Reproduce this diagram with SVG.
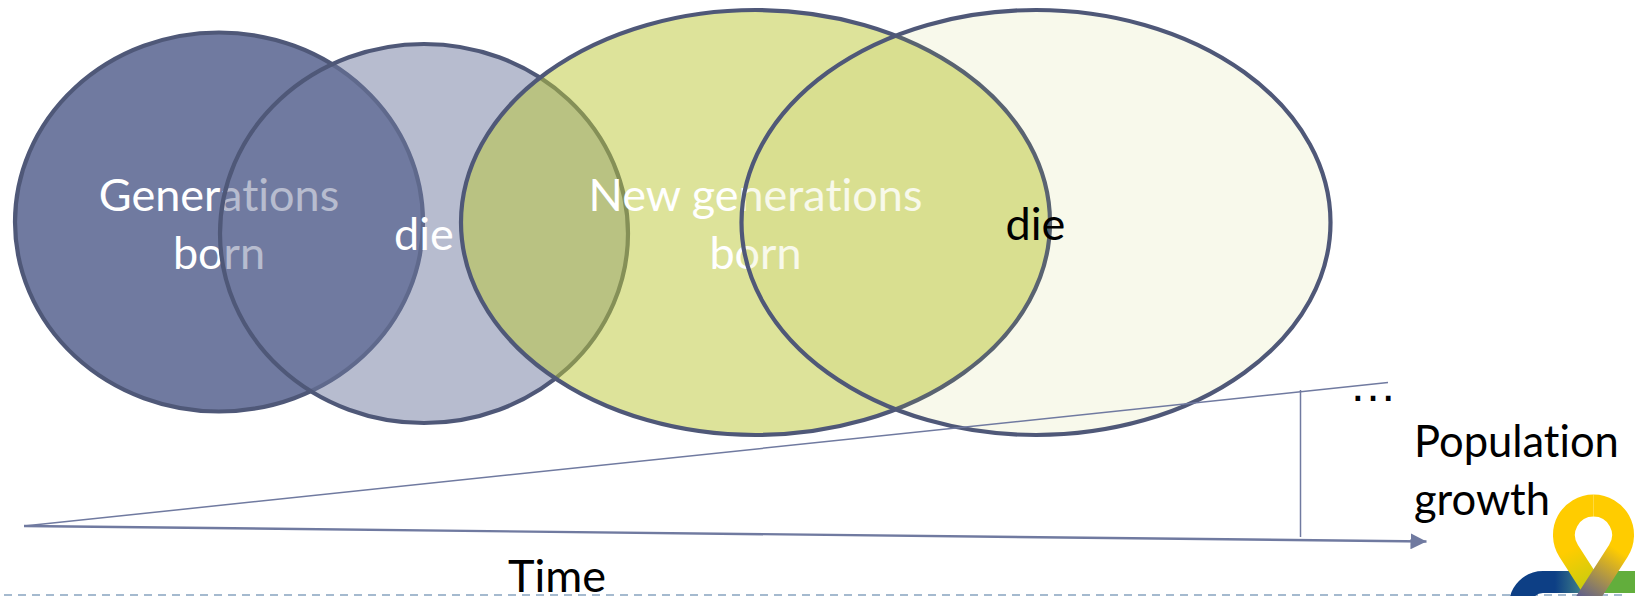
<svg xmlns="http://www.w3.org/2000/svg" width="1635" height="596" viewBox="0 0 1635 596">
<style>
text{font-family:"Lato","Open Sans","Liberation Sans",sans-serif;font-size:45px;text-anchor:middle;font-variant-ligatures:none}
.w{fill:#fff}.k{fill:#000}
.s{font-size:43.500px;text-anchor:start}
ellipse{stroke:#4f5878;stroke-width:4.200}
.ln{stroke:#707aa0;fill:none}
</style>
<defs>
<marker id="ah" markerUnits="userSpaceOnUse" markerWidth="16" markerHeight="16" refX="16" refY="8" orient="auto"><path d="M0 0L16 8L0 16Z" fill="#707aa0"/></marker>
<linearGradient id="leg" gradientUnits="userSpaceOnUse" x1="1622" y1="545" x2="1585" y2="600"><stop offset="0.1" stop-color="#ffcc00"/><stop offset="1" stop-color="#5f5f8c"/></linearGradient>
<linearGradient id="blue" gradientUnits="userSpaceOnUse" x1="1555" y1="0" x2="1582" y2="0"><stop offset="0" stop-color="#0d3f85"/><stop offset="1" stop-color="#3f7f88"/></linearGradient>
<linearGradient id="leftleg" gradientUnits="userSpaceOnUse" x1="1570" y1="550" x2="1590" y2="590"><stop offset="0" stop-color="#ffcc00"/><stop offset="1" stop-color="#c4cc10"/></linearGradient>
</defs>
<line x1="4" y1="595" x2="1622" y2="595" stroke="#a5bacf" stroke-width="2" stroke-dasharray="8 6"/>
<g id="node-generations-born">
<ellipse cx="219" cy="222" rx="204" ry="189.500" fill="#707aa0"/>
<text class="w" x="219" y="211">Generations</text>
<text class="w" x="219" y="269">born</text>
</g>
<g id="node-die-1">
<ellipse cx="424" cy="233.500" rx="204" ry="189.500" fill="#707aa0" fill-opacity=".5"/>
<text class="w" x="424" y="250">die</text>
</g>
<g id="node-new-generations-born">
<ellipse cx="755.500" cy="222.500" rx="294.500" ry="212.500" fill="#bbc735" fill-opacity=".5"/>
<text class="w" x="755.500" y="211">New generations</text>
<text class="w" x="755.500" y="269">born</text>
</g>
<g id="node-die-2">
<ellipse cx="1036" cy="222.500" rx="294.500" ry="212.500" fill="#b8c038" fill-opacity=".1"/>
<text class="k" x="1035.500" y="240">die</text>
</g>
<g id="connectors">
<line class="ln" x1="24" y1="526" x2="1388" y2="382.500" stroke-width="1.500"/>
<line class="ln" x1="24" y1="526" x2="1426.500" y2="541.500" stroke-width="2.400" marker-end="url(#ah)"/>
<line class="ln" x1="1300.500" y1="390" x2="1300.500" y2="537" stroke-width="1.500"/>
</g>
<text class="k" x="1373" y="401" style="font-size:48px;font-family:'Liberation Sans',sans-serif" id="label-dots">…</text>
<g id="label-population">
<text class="k s" x="1414" y="457">Population</text>
<text class="k s" x="1414" y="515">growth</text>
</g>
<text class="k" x="557" y="592" id="label-time">Time</text>
<g id="logo" fill="none" stroke-width="22">
<path d="M1585 582H1635" stroke="#62ae3c"/>
<path d="M1582 582H1543A23 23 0 0 0 1520 605" stroke="url(#blue)"/>
<path d="M1593.500 505.500A29.500 29.500 0 0 0 1568.700 551L1597 595" stroke="url(#leftleg)"/>
<path d="M1593.500 505.500A29.500 29.500 0 0 1 1618.300 551L1581 609" stroke="url(#leg)"/>
</g>
</svg>
